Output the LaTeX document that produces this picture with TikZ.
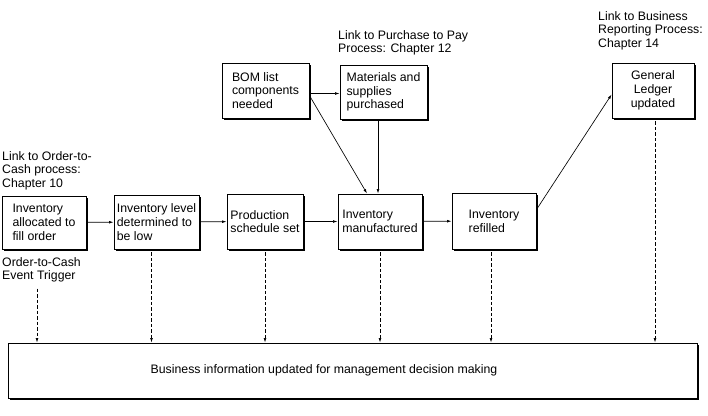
\documentclass[tikz,border=0pt]{standalone}
\usepackage{fontspec}
\setmainfont{Liberation Sans}
\usetikzlibrary{arrows.meta,shadows,calc}
\begin{document}
\begin{tikzpicture}[x=1pt,y=-1pt,
  font=\fontsize{12.3}{13.8}\selectfont,
  box/.style={draw, line width=0.9pt, fill=white, inner sep=0pt,
    drop shadow={shadow xshift=1.8pt, shadow yshift=-1.8pt, opacity=1, fill=black}},
  lbl/.style={align=left, anchor=north west, inner sep=0pt},
  arr/.style={-{Latex[length=4.5pt,width=2.8pt]}, line width=0.65pt},
  darr/.style={arr, dash pattern=on 3.5pt off 2pt}]
\useasboundingbox (0,0) rectangle (708,415);
% process boxes
\node[box, align=left, minimum width=84pt, minimum height=53pt] (b1) at (44,222.5) {Inventory\\allocated to\\fill order};
\node[box, align=left, minimum width=85pt, minimum height=54pt] (b2) at (156.5,222) {Inventory level\\determined to\\be low};
\node[box, align=left, minimum width=76pt, minimum height=55pt] (b3) at (265,221.5) {Production\\schedule set};
\node[box, align=left, minimum width=84pt, minimum height=55pt] (b4) at (380,221.5) {Inventory\\manufactured};
\node[box, align=left, minimum width=84pt, minimum height=56pt] (b5) at (494,221) {Inventory\\refilled};
\node[box, align=left, minimum width=87pt, minimum height=55pt] (bom) at (265.5,90.5) {BOM list\\components\\needed};
\node[box, align=left, minimum width=87pt, minimum height=54pt] (mat) at (383.5,92) {Materials and\\supplies\\purchased};
\node[box, align=center, minimum width=82pt, minimum height=55pt] (gl) at (653,90.5) {General\\Ledger\\updated};
\node[box, minimum width=689pt, minimum height=55pt] (bot) at (352.5,370.5) {Business information updated for management decision making\rule{57pt}{0pt}};
% labels
\node[lbl] (l1) at (2,151) {Link to Order-to-\\Cash process:\\Chapter 10};
\node[lbl] (trig) at (2,257) {Order-to-Cash\\Event Trigger};
\node[lbl] (l2) at (338,30) {Link to Purchase to Pay\\Process: Chapter 12};
\node[lbl] (l3) at (598,11) {Link to Business\\Reporting Process:\\Chapter 14};
% solid connectors
\draw[arr] (b1) -- (b2);
\draw[arr] (b2) -- (b3);
\draw[arr] (b3) -- (b4);
\draw[arr] (b4) -- (b5);
\draw[arr] ([yshift=-3pt]bom.east) -- ([yshift=-3pt]bom.east -| mat.west);
\draw[arr] ([yshift=-5pt]bom.east) -- ([xshift=-13pt]b4.north);
\draw[arr] ([xshift=-2pt]mat.south -| b4.north) -- ([xshift=-2pt]b4.north);
\draw[arr] (b5.15) -- ([yshift=-4pt]gl.west);
% dashed connectors
\path (trig.south west) ++(35,6) coordinate (t1);
\draw[darr] (t1) -- (t1 |- bot.north);
\draw[darr] ([xshift=-5pt,yshift=-3pt]b2.south) -- ([xshift=-5pt]b2.south |- bot.north);
\draw[darr] ([yshift=-3pt]b3.south) -- (b3.south |- bot.north);
\draw[darr] ([yshift=-3pt]b4.south) -- (b4.south |- bot.north);
\draw[darr] ([xshift=-3pt,yshift=-3pt]b5.south) -- ([xshift=-3pt]b5.south |- bot.north);
\draw[darr] ([xshift=2pt,yshift=-3pt]gl.south) -- ([xshift=2pt]gl.south |- bot.north);
\end{tikzpicture}
\end{document}
